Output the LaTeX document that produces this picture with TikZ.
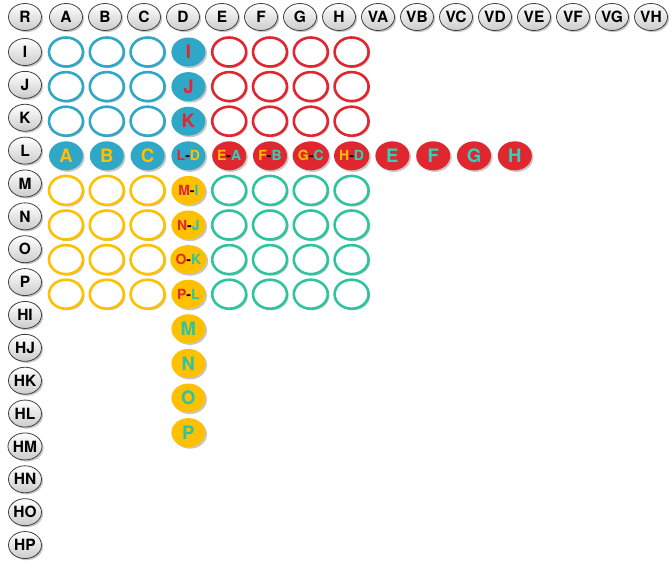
\documentclass[tikz,border=0pt]{standalone}
\usepackage{fontspec}
\setmainfont{TeX Gyre Heros}
\usetikzlibrary{shapes.geometric,shadows}
\definecolor{cellblue}{HTML}{2FA7C6}
\definecolor{cellred}{HTML}{E0262F}
\definecolor{cellgold}{HTML}{FFC000}
\definecolor{cellgreen}{HTML}{2EC4A0}
\definecolor{textteal}{HTML}{2ED3BE}
\newcommand{\pairtxt}[4]{\textcolor{#1}{#2}\textcolor{black}{-}\textcolor{#3}{#4}}
\tikzset{
  every picture/.style = {line join=round},
  softshadow/.style    = {drop shadow={shadow xshift=1.6pt, shadow yshift=-1.6pt, opacity=0.4, fill=black!55}},
  cell/.style          = {ellipse, minimum width=34pt, minimum height=29pt, inner sep=0pt,
                          font=\bfseries\fontsize{18.5}{19}\selectfont, softshadow},
  ring/.style          = {cell, draw=#1, line width=2.6pt, fill=white},
  disc/.style          = {cell, fill=#1},
  pair/.style          = {font=\bfseries\fontsize{14}{14}\selectfont},
  key/.style           = {ellipse, minimum width=33pt, minimum height=27pt, inner sep=0pt,
                          draw=black!75, line width=0.8pt, top color=white, bottom color=black!20,
                          font=\bfseries\fontsize{15.5}{16}\selectfont, softshadow},
}

\begin{document}
\begin{tikzpicture}[x=1pt, y=-1pt]
  \useasboundingbox (0,0) rectangle (672,562);
  \def\Xo{66}\def\dX{40.8}\def\Yo{52}\def\dY{34.6}   % cell grid: first centre, steps

  % keys: header row and left column
  \node[key] (kR) at (25,17) {R};
  \foreach \t [count=\i from 0] in {A,B,C,D,E,F,G,H,VA,VB,VC,VD,VE,VF,VG,VH}
    \node[key] (k\t) at ({66+39*\i},17) {\t};
  \foreach \t [count=\i from 0] in {I,J,K,L,M,N,O,P,HI,HJ,HK,HL,HM,HN,HO,HP}
    \node[key] (r\t) at (25,{52+32.87*\i}) {\t};

  % upper band: rows I..K
  \foreach \r in {0,1,2} {
    \foreach \c in {0,1,2}
      \node[ring=cellblue] (c\r-\c) at ({\Xo+\dX*\c},{\Yo+\dY*\r}) {};
    \foreach \c in {4,...,7}
      \node[ring=cellred] (c\r-\c) at ({\Xo+\dX*\c},{\Yo+\dY*\r}) {};
  }
  \foreach \t [count=\r from 0] in {I,J,K}
    \node[disc=cellblue, text=cellred] (c\r-3) at ({\Xo+\dX*3},{\Yo+\dY*\r}) {\t};

  % row L, the full band
  \foreach \t [count=\c from 0] in {A,B,C}
    \node[disc=cellblue, text=cellgold] (c3-\c) at ({\Xo+\dX*\c},{\Yo+\dY*3}) {\t};
  \node[disc=cellblue, pair] (c3-3) at ({\Xo+\dX*3},{\Yo+\dY*3}) {\pairtxt{cellred}{L}{cellgold}{D}};
  \foreach \a/\b [count=\c from 4] in {E/A,F/B,G/C,H/D}
    \node[disc=cellred, pair] (c3-\c) at ({\Xo+\dX*\c},{\Yo+\dY*3}) {\pairtxt{cellgold}{\a}{textteal}{\b}};
  \foreach \t [count=\c from 8] in {E,F,G,H}
    \node[disc=cellred, text=textteal] (c3-\c) at ({\Xo+\dX*\c},{\Yo+\dY*3}) {\t};

  % lower band: rows M..P
  \foreach \r in {4,...,7} {
    \foreach \c in {0,1,2}
      \node[ring=cellgold] (c\r-\c) at ({\Xo+\dX*\c},{\Yo+\dY*\r}) {};
    \foreach \c in {4,...,7}
      \node[ring=cellgreen] (c\r-\c) at ({\Xo+\dX*\c},{\Yo+\dY*\r}) {};
  }
  \foreach \a/\b [count=\r from 4] in {M/I,N/J,O/K,P/L}
    \node[disc=cellgold, pair] (c\r-3) at ({\Xo+\dX*3},{\Yo+\dY*\r}) {\pairtxt{cellred}{\a}{cellgreen}{\b}};

  % tail of column D
  \foreach \t [count=\r from 8] in {M,N,O,P}
    \node[disc=cellgold, text=cellgreen] (c\r-3) at ({\Xo+\dX*3},{\Yo+\dY*\r}) {\t};
\end{tikzpicture}
\end{document}
